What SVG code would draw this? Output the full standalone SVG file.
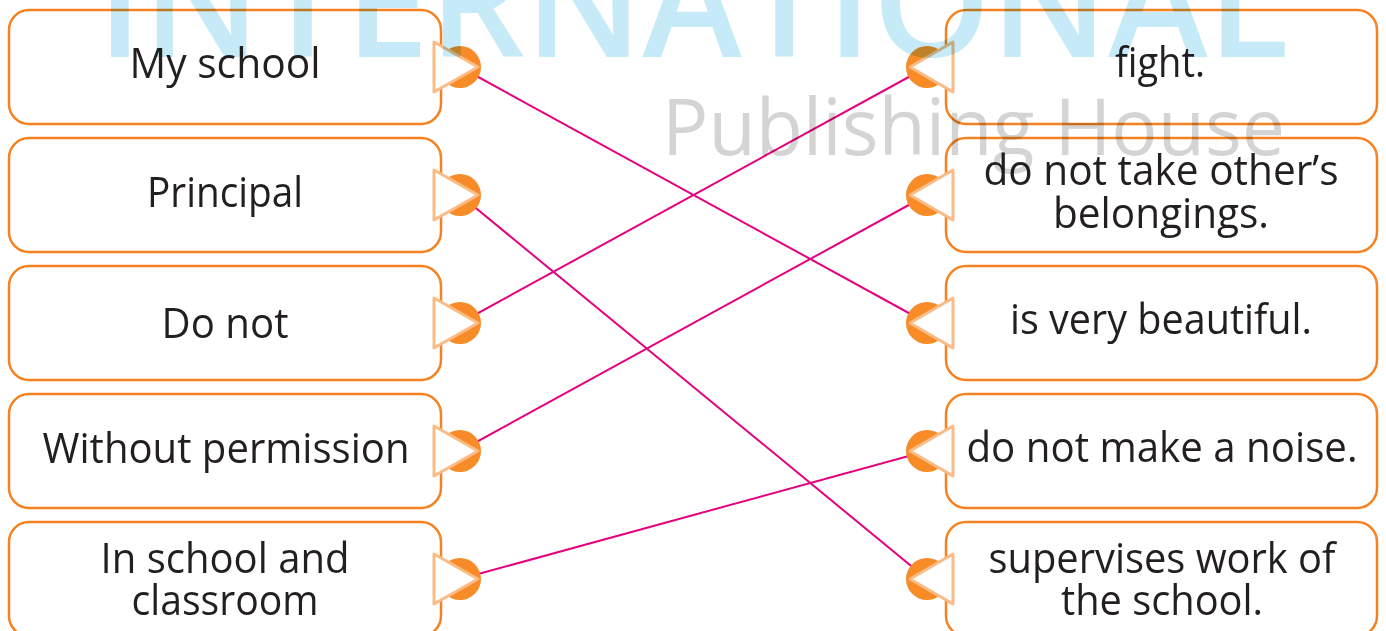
<svg xmlns="http://www.w3.org/2000/svg" width="1386" height="631" viewBox="0 0 1386 631">
<style>
.box{fill:#ffffff;stroke:#f58220;stroke-width:2.5}
.lbl{font-family:"Open Sans","Noto Sans","Liberation Sans",sans-serif;font-size:42px;fill:#231f20;text-anchor:middle}
.dot{fill:#f68b28}
.tri{fill:#ffffff;stroke:#fbbb85;stroke-width:3;stroke-linejoin:round}
.con{stroke:#e5007d;stroke-width:2;fill:none}
.wm1{font-family:"Open Sans","Noto Sans",sans-serif;font-size:152px;font-weight:600;fill:#c6eaf8;mix-blend-mode:multiply}
.wm2{font-family:"Open Sans","Noto Sans",sans-serif;font-size:78px;fill:#d4d4d4;mix-blend-mode:multiply}
</style>
<defs>
<g id="knobL"><circle class="dot" cx="460" cy="0" r="21"/><polygon class="tri" points="434,-25 434,25 478,0"/></g>
<g id="knobR"><circle class="dot" cx="927" cy="0" r="21"/><polygon class="tri" points="953,-25 953,25 910,0"/></g>
</defs>
<rect width="1386" height="631" fill="#ffffff"/>
<g id="connectors">
<line class="con" x1="460" y1="67" x2="927" y2="323"/>
<line class="con" x1="460" y1="195" x2="927" y2="579"/>
<line class="con" x1="460" y1="323" x2="927" y2="67"/>
<line class="con" x1="460" y1="451" x2="927" y2="195"/>
<line class="con" x1="460" y1="579" x2="927" y2="451"/>
</g>
<g id="n-myschool"><rect class="box" x="9" y="10" width="432" height="114" rx="20"/><text class="lbl" x="225" y="78" textLength="191" lengthAdjust="spacingAndGlyphs">My school</text><use href="#knobL" y="67"/></g>
<g id="n-principal"><rect class="box" x="9" y="138" width="432" height="114" rx="20"/><text class="lbl" x="225" y="207" textLength="156" lengthAdjust="spacingAndGlyphs">Principal</text><use href="#knobL" y="195"/></g>
<g id="n-donot"><rect class="box" x="9" y="266" width="432" height="114" rx="20"/><text class="lbl" x="225" y="338" textLength="127" lengthAdjust="spacingAndGlyphs">Do not</text><use href="#knobL" y="323"/></g>
<g id="n-without"><rect class="box" x="9" y="394" width="432" height="114" rx="20"/><text class="lbl" x="226" y="463" textLength="367" lengthAdjust="spacingAndGlyphs">Without permission</text><use href="#knobL" y="451"/></g>
<g id="n-inschool"><rect class="box" x="9" y="522" width="432" height="114" rx="20"/><text class="lbl" x="225" y="573" textLength="249" lengthAdjust="spacingAndGlyphs">In school and</text><text class="lbl" x="225" y="615" textLength="187" lengthAdjust="spacingAndGlyphs">classroom</text><use href="#knobL" y="579"/></g>
<g id="n-fight"><rect class="box" x="946" y="10" width="431" height="114" rx="20"/><text class="lbl" x="1160" y="77" textLength="90" lengthAdjust="spacingAndGlyphs">fight.</text><use href="#knobR" y="67"/></g>
<g id="n-belongings"><rect class="box" x="946" y="138" width="431" height="114" rx="20"/><text class="lbl" x="1161" y="185" textLength="355" lengthAdjust="spacingAndGlyphs">do not take other’s</text><text class="lbl" x="1161" y="228" textLength="216" lengthAdjust="spacingAndGlyphs">belongings.</text><use href="#knobR" y="195"/></g>
<g id="n-beautiful"><rect class="box" x="946" y="266" width="431" height="114" rx="20"/><text class="lbl" x="1161" y="334" textLength="302" lengthAdjust="spacingAndGlyphs">is very beautiful.</text><use href="#knobR" y="323"/></g>
<g id="n-noise"><rect class="box" x="946" y="394" width="431" height="114" rx="20"/><text class="lbl" x="1162" y="462" textLength="391" lengthAdjust="spacingAndGlyphs">do not make a noise.</text><use href="#knobR" y="451"/></g>
<g id="n-supervises"><rect class="box" x="946" y="522" width="431" height="114" rx="20"/><text class="lbl" x="1162" y="573" textLength="347" lengthAdjust="spacingAndGlyphs">supervises work of</text><text class="lbl" x="1162" y="615" textLength="202" lengthAdjust="spacingAndGlyphs">the school.</text><use href="#knobR" y="579"/></g>
<g id="watermark">
<text class="wm1" x="97" y="57" textLength="1192" lengthAdjust="spacingAndGlyphs">INTERNATIONAL</text>
<text class="wm2" x="662" y="155" textLength="623" lengthAdjust="spacingAndGlyphs">Publishing House</text>
</g>
</svg>
